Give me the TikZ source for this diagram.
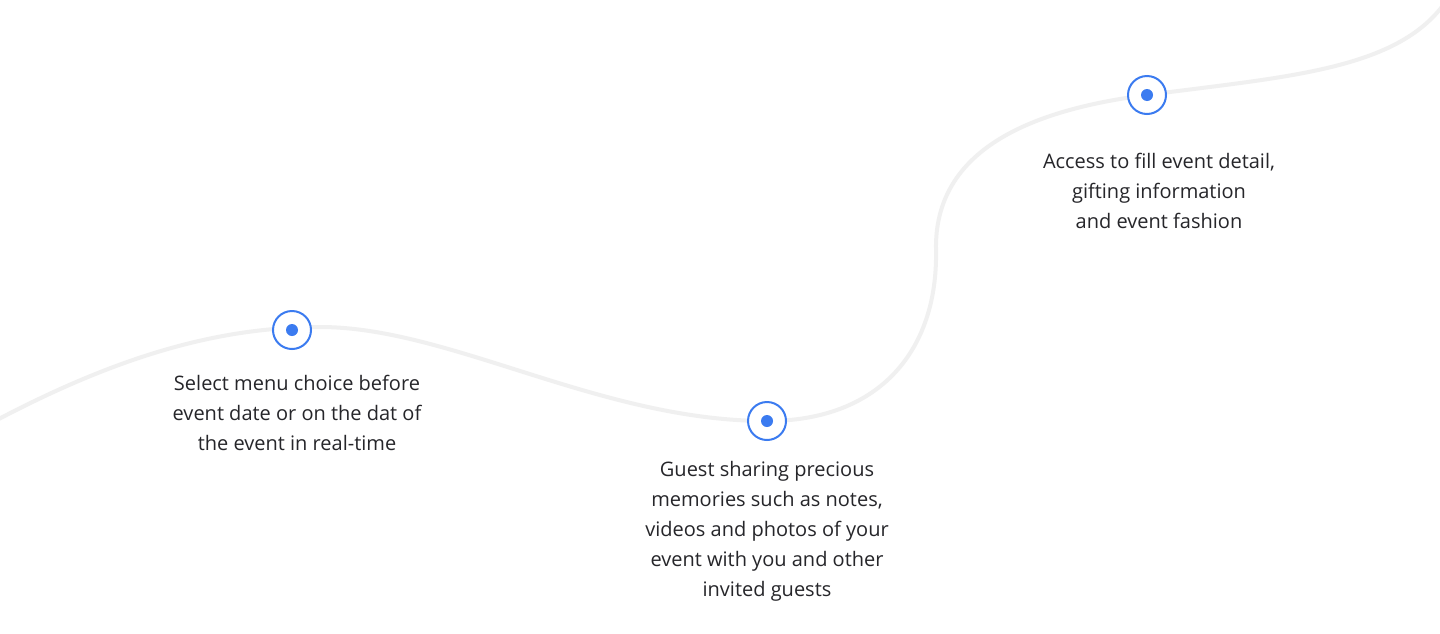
\documentclass[tikz,border=0pt]{standalone}
\usepackage{fontspec}
\setmainfont{Open Sans}
\usetikzlibrary{positioning}
\definecolor{pathGray}{RGB}{240, 240, 240}
\definecolor{dotBlue}{RGB}{59, 123, 240}
\definecolor{textDark}{RGB}{38, 38, 42}

\begin{document}
\begin{tikzpicture}[
    x=0.5pt, y=-0.5pt,
    markNode/.style={circle, draw=dotBlue, fill=white, line width=1pt, minimum size=19pt, inner sep=0pt},
    noteNode/.style={text=textDark, align=center, font=\fontsize{10}{15}\selectfont, inner sep=0pt}
  ]
    \useasboundingbox[fill=white] (0,0) rectangle (1440,633);

    % Timeline markers
    \coordinate (c1) at (292,330);
    \coordinate (c2) at (767,421);
    \coordinate (c3) at (1147,95);

    % Wavy line
    \draw[pathGray, line width=2pt] (-5,421) .. controls (120,355) and (220,327) .. (320,327)
      .. controls (450,327) and (600,421) .. (c2)
      .. controls (880,421) and (938,350) .. (936,250)
      .. controls (934,150) and (1030,110) .. (c3)
      .. controls (1290,76) and (1405,70) .. (1450,-5);

    % Markers on top of the line
    \foreach \m in {1, 2, 3} {
      \node[markNode] (m\m) at (c\m) {};
      \fill[dotBlue] (m\m) circle (3pt);
    }

    % Notes
    \node[noteNode] (t1) at (297,413) {Select menu choice before\\event date or on the dat of\\the event in real-time};
    \node[noteNode] (t2) at (767,531) {Guest sharing precious\\memories such as notes,\\videos and photos of your\\event with you and other\\invited guests};
    \node[noteNode] (t3) at (1159,191) {Access to fill event detail,\\gifting information\\and event fashion};
  \end{tikzpicture}
\end{document}
